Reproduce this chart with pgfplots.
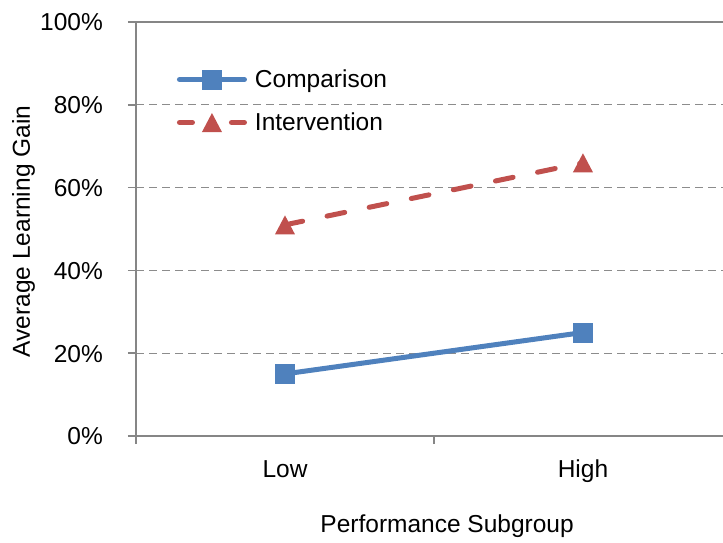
\documentclass[border=0pt]{standalone}
\usepackage{pgfplots}
\pgfplotsset{compat=1.18}
\usepackage{pgfplotstable}
\usepackage{fontspec}
\setmainfont{Liberation Sans}

\definecolor{cmpblue}{HTML}{4F81BD}
\definecolor{intred}{HTML}{C0504D}
\definecolor{axisgray}{HTML}{868686}
\definecolor{gridgray}{HTML}{8C8C8C}

\newcommand\chartfont{\fontsize{24.5pt}{29pt}\selectfont}

% filled square and triangle markers, no outline
\pgfdeclareplotmark{xlsquare}{%
  \pgfpathrectangle{\pgfqpoint{-10pt}{-10pt}}{\pgfqpoint{20pt}{20pt}}%
  \pgfusepathqfill}
\pgfdeclareplotmark{xltriangle}{%
  \pgfpathmoveto{\pgfqpoint{-10pt}{-9.5pt}}%
  \pgfpathlineto{\pgfqpoint{10pt}{-9.5pt}}%
  \pgfpathlineto{\pgfqpoint{0pt}{9.5pt}}%
  \pgfpathclose
  \pgfusepathqfill}

% legend sample for the dashed series: one dash either side of the marker
\pgfplotsset{
  dashed legend/.style={
    legend image code/.code={
      \draw[##1, solid, line cap=round] (2.5pt,1.8pt) -- (15.5pt,1.8pt)
        (54.5pt,1.8pt) -- (67.5pt,1.8pt);
      \draw[##1, solid] plot coordinates {(35pt,1.8pt)};
    }
  }
}

% average learning gain (%) by subgroup: 0 = Low, 1 = High
\pgfplotstableread{
x comparison intervention
0 15 51
1 25 66
}\gaintable

\begin{document}
\begin{tikzpicture}[font=\chartfont]
\path[use as bounding box] (0,0) rectangle (723pt,542pt);
\begin{axis}[
  at={(136pt,106pt)}, anchor=south west,
  scale only axis, width=587pt, height=414pt,
  xmin=-0.5, xmax=1.47, ymin=0, ymax=100,
  axis x line*=bottom, axis y line*=left,
  axis line style={-, draw=axisgray, line width=1.5pt},
  xtick={-0.5,0.5}, xticklabels={},
  extra x ticks={0,1}, extra x tick labels={Low,High},
  extra x tick style={major tick length=0pt},
  ytick={0,20,40,60,80,100},
  yticklabels={0\%,20\%,40\%,60\%,80\%,100\%},
  tick align=outside, major tick length=8pt,
  tick style={draw=axisgray, line width=1.5pt},
  ymajorgrids,
  y grid style={draw=gridgray, line width=1.3pt, dash pattern=on 8pt off 5pt},
  yticklabel style={anchor=base east, inner sep=0pt, xshift=-25pt, yshift=-8.8pt, font=\chartfont},
  xticklabel style={anchor=base, inner sep=0pt, yshift=-41pt, font=\chartfont},
  xlabel={Performance Subgroup},
  xlabel style={at={(axis description cs:0.530,-0.2319)}, anchor=base, inner sep=0pt, font=\chartfont},
  ylabel={Average Learning Gain},
  ylabel style={at={(axis description cs:-0.1806,0.494)}, anchor=base, inner sep=0pt, font=\chartfont},
  legend style={at={(axis description cs:0.0698,0.8857)}, anchor=north west,
    draw=none, fill=none, inner sep=0pt, outer sep=0pt,
    row sep=19pt, column sep=8pt,
    nodes={inner sep=0pt, text height=18pt, text depth=6pt},
    font=\chartfont},
  legend cell align=left,
  legend image code/.code={
    \draw[#1, solid, line cap=round] (2.5pt,1.8pt) -- (67.5pt,1.8pt);
    \draw[#1, solid] plot coordinates {(35pt,1.8pt)};
  },
]
\addplot[color=cmpblue, line width=5pt, mark=xlsquare]
  table[x=x, y=comparison]{\gaintable};
\addlegendentry{Comparison}
\addplot[color=intred, line width=5pt, line cap=round,
  dash pattern=on 18pt off 25pt, mark=xltriangle, mark options={solid},
  dashed legend]
  table[x=x, y=intervention]{\gaintable};
\addlegendentry{Intervention}
\draw[axisgray, line width=1.5pt] (rel axis cs:0,1) -- (rel axis cs:1,1);
\end{axis}
\end{tikzpicture}
\end{document}
